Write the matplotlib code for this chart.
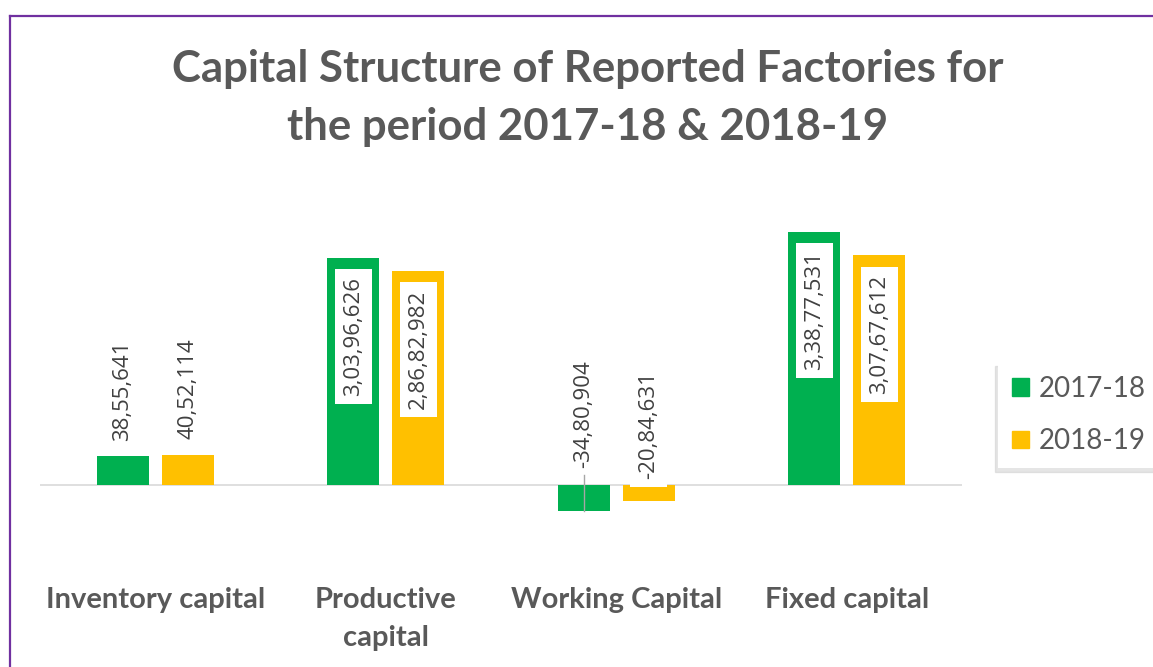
import matplotlib.pyplot as plt
from matplotlib.patches import Patch

# данные с графика
categories = ['Inventory capital', 'Productive\ncapital', 'Working Capital', 'Fixed capital']
years = ['2017-18', '2018-19']
values_2017 = [3855641, 30396626, -3480904, 33877531]
values_2018 = [4052114, 28682982, -2084631, 30767612]

GREEN = '#00B050'
YELLOW = '#FFC000'
TEXT = '#595959'
LABEL = '#404040'


def indian_format(v):
    """Формат числа по индийской системе: 3,03,96,626"""
    s = str(abs(int(v)))
    head, tail = s[:-3], s[-3:]
    parts = []
    while len(head) > 2:
        parts.insert(0, head[-2:])
        head = head[:-2]
    if head:
        parts.insert(0, head)
    out = ','.join(parts + [tail]) if parts else tail
    return ('-' if v < 0 else '') + out


fig = plt.figure(figsize=(11.53, 6.67), dpi=100)

# фиолетовая рамка слева и сверху
fig.add_artist(plt.Line2D([10.5 / 1153, 10.5 / 1153], [0, 1 - 15.5 / 667],
                          color='#7030A0', lw=1.6, transform=fig.transFigure))
fig.add_artist(plt.Line2D([10.5 / 1153, 1], [1 - 15.5 / 667, 1 - 15.5 / 667],
                          color='#7030A0', lw=1.6, transform=fig.transFigure))

ax = fig.add_axes([40 / 1153, 1 - 520 / 667, 922 / 1153, 310 / 667])

x = list(range(len(categories)))
width = 0.226
offset = 0.141
bars1 = ax.bar([i - offset for i in x], values_2017, width, color=GREEN)
bars2 = ax.bar([i + offset for i in x], values_2018, width, color=YELLOW)

px = 133900  # единиц данных на пиксель
ax.set_ylim(-(520 - 485) * px, (485 - 210) * px)
ax.set_xlim(-0.5, 3.5)
ax.axhline(0, color='#D9D9D9', lw=1.2, zorder=0)

for s in ax.spines.values():
    s.set_visible(False)
ax.set_yticks([])
ax.set_xticks(x)
ax.set_xticklabels(categories, fontsize=21, fontweight='bold', color=TEXT,
                   fontfamily='Lato', linespacing=1.6, va='top')
ax.tick_params(axis='x', length=0, pad=48)

# подписи значений
box = dict(boxstyle='square,pad=0.36', fc='white', ec='none')
for bars, vals in ((bars1, values_2017), (bars2, values_2018)):
    for i, (b, v) in enumerate(zip(bars, vals)):
        cx = b.get_x() + b.get_width() / 2
        txt = indian_format(v)
        kw = dict(rotation=90, ha='center', fontsize=16, color=LABEL,
                  fontfamily='Open Sans', textcoords='offset points')
        if i == 0:
            ax.annotate(txt, (cx, v), xytext=(0, 11), va='bottom', **kw)
        elif i == 2:
            dy = 12 if bars is bars1 else 4
            ax.annotate(txt, (cx, 0), xytext=(0, dy), va='bottom', bbox=box, **kw)
        else:
            ax.annotate(txt, (cx, v), xytext=(0, -14), va='top', bbox=box, **kw)

# выносная линия для отрицательного значения
cx = bars1[2].get_x() + bars1[2].get_width() / 2
ax.plot([cx, cx], [values_2017[2], 10 * px], color='#A6A6A6', lw=1, zorder=3)

fig.text(588 / 1153, 1 - 98 / 667,
         'Capital Structure of Reported Factories for\nthe period 2017-18 & 2018-19',
         ha='center', va='center', fontsize=31.5, fontweight='bold', color=TEXT,
         fontfamily='Lato', linespacing=1.55)

handles = [Patch(color=GREEN), Patch(color=YELLOW)]
leg = fig.legend(handles, years, loc='center left', bbox_to_anchor=(998 / 1153, 1 - 415 / 667),
                 frameon=True, fancybox=False, shadow={'ox': -2, 'oy': -3, 'color': '0.8'},
                 handlelength=0.6, handleheight=0.6, handletextpad=0.35, labelspacing=0.95,
                 borderpad=0.5, borderaxespad=0, prop={'family': 'Lato', 'size': 20},
                 labelcolor=TEXT)
leg.get_frame().set_edgecolor('none')

plt.savefig('out.png', dpi=100)
